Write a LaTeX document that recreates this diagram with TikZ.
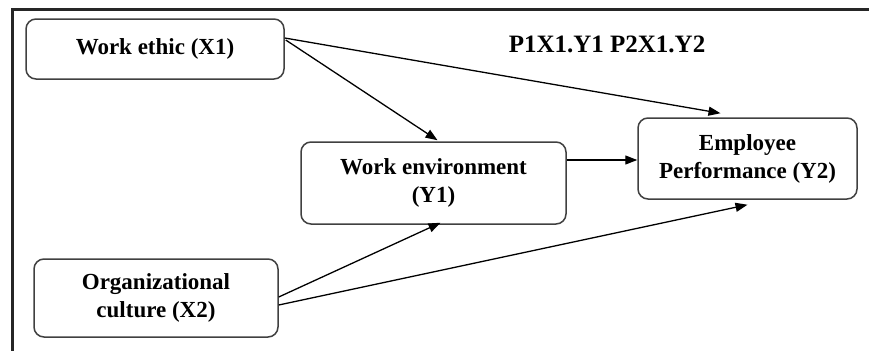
\documentclass[tikz,border=0pt]{standalone}
\usepackage{fontspec}
\setmainfont{Liberation Serif}
\usetikzlibrary{arrows.meta,calc}
\begin{document}
\begin{tikzpicture}[x=1pt,y=-1pt,
  box/.style={draw=black!75,line width=1.5pt,rounded corners=10pt,align=center,
    font=\fontsize{23}{28}\selectfont\bfseries,inner sep=0pt},
  conn/.style={line width=1.3pt,-{Triangle[length=12pt,width=9pt]}}]
\useasboundingbox (0,0) rectangle (869,351);
\draw[line width=3pt,black!85] (869,9) -- (12.5,9) -- (12.5,351);
\node[box,minimum width=258pt,minimum height=60pt] (we) at (155,49) {Work ethic (X1)};
\node[box,minimum width=265pt,minimum height=82pt] (env) at (433.5,183) {Work environment\\(Y1)};
\node[box,minimum width=219pt,minimum height=81pt] (y2) at (747.5,158.5) {Employee\\Performance (Y2)};
\node[box,minimum width=244pt,minimum height=78pt] (org) at (156,298) {Organizational\\culture (X2)};
\node[font=\fontsize{25}{30}\selectfont\bfseries] (lab) at (607,44) {P1X1.Y1 P2X1.Y2};
\draw[conn] ($(we.east)+(0,-11)$) -- ($(y2.north)+(-27,-4)$);
\draw[conn] ($(we.east)+(1,-9)$) -- ($(env.north)+(4,-1)$);
\draw[conn] ($(env.east)+(0,-23)$) -- ($(y2.west)+(0,1.5)$);
\draw[conn] ($(org.east)+(0,-1)$) -- ($(env.south)+(7,-2)$);
\draw[conn] ($(org.east)+(0,7)$) -- ($(y2.south)+(0,5)$);
\end{tikzpicture}
\end{document}
